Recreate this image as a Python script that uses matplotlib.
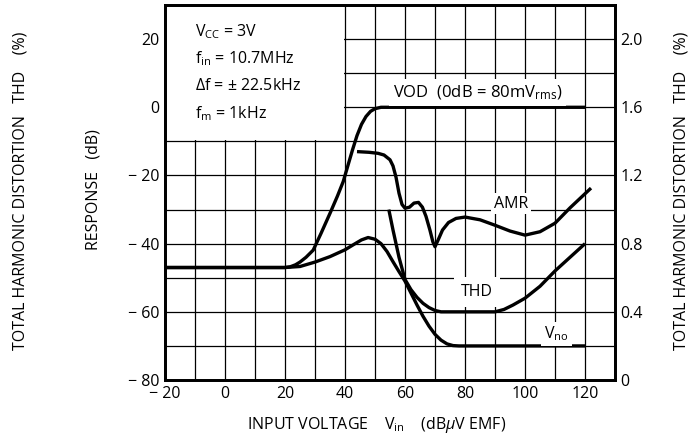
import numpy as np
import matplotlib
matplotlib.use("Agg")
import matplotlib.pyplot as plt
from matplotlib.patches import Rectangle

plt.rcParams['font.family'] = ['Open Sans', 'DejaVu Sans']
plt.rcParams['mathtext.fontset'] = 'custom'
plt.rcParams['mathtext.rm'] = 'Open Sans'
plt.rcParams['mathtext.it'] = 'Open Sans:italic'

# input voltage (dBuV EMF) vs response (dB)
vod_x = [-20, 20, 21.7, 23.5, 25, 27, 29.4, 32, 35, 37.5, 39.4, 41, 42.5, 44, 45.5, 47, 48.5, 50, 52, 120]
vod_y = [-47, -47, -46.8, -46.2, -45.4, -44, -41.9, -37, -31.1, -26, -21.8, -17, -12.5, -8.3, -5, -2.7, -1.2, -0.4, 0, 0]

vno_x = [-20, 20, 25, 30, 35, 40, 43, 45.5, 47.7, 50, 52, 54, 56, 58, 60, 62, 64, 66, 68, 70, 72, 74, 76, 78, 120]
vno_y = [-47, -47, -46.7, -45.4, -43.8, -41.8, -40.2, -38.9, -38.2, -38.7, -40, -42.3, -45.3, -48.2, -51, -54.5, -58, -61.3, -64.2, -66.6, -68.3, -69.4, -69.9, -70, -70]

amr_x = [44, 48, 51, 53, 55, 56, 57, 58, 59, 60, 61.5, 63, 64.5, 65.8, 67, 68.3, 69.3, 70, 71, 72.5, 74.5, 77, 80, 85, 90, 95, 100, 105, 110, 115, 122]
amr_y = [-13, -13.2, -13.5, -14, -15.4, -17.2, -20.5, -25.2, -28.5, -29.6, -29.3, -28.1, -27.9, -29.3, -32, -36, -39.5, -40.9, -39, -36, -33.8, -32.6, -32.2, -33, -34.6, -36.3, -37.5, -36.5, -34, -29.5, -23.7]

# THD in %
thd_x = [54.6, 56, 58, 60, 62, 64, 66, 68, 70, 72, 80, 90, 93, 96, 100, 105, 110, 115, 120]
thd_y = [1.0, 0.88, 0.72, 0.59, 0.53, 0.485, 0.45, 0.425, 0.408, 0.40, 0.40, 0.40, 0.414, 0.44, 0.48, 0.55, 0.64, 0.72, 0.80]

x_ticks = [-20, 0, 20, 40, 60, 80, 100, 120]
x_labels = ['\u2212 20', '0', '20', '40', '60', '80', '100', '120']
y_ticks = [-80, -60, -40, -20, 0, 20]
y_labels = ['\u2212 80', '\u2212 60', '\u2212 40', '\u2212 20', '0', '20']
thd_ticks = [0, 0.4, 0.8, 1.2, 1.6, 2.0]
thd_labels = ['0', '0.4', '0.8', '1.2', '1.6', '2.0']

conditions = ['V$_{\\rm CC}$ = 3V', 'f$_{\\rm in}$ = 10.7MHz',
              '$\\it{\u0394}$f = \u00b1 22.5kHz', 'f$_{\\rm m}$ = 1kHz']

fig = plt.figure(figsize=(7, 4.44), dpi=100)
ax = fig.add_axes([0.2357, 0.1441, 0.6429, 0.8446])

ax.set_xlim(-20, 130)
ax.set_ylim(-80, 30)
ax.set_xticks(x_ticks)
ax.set_xticklabels(x_labels)
ax.set_yticks(y_ticks)
ax.set_yticklabels(y_labels)
ax.set_xticks(np.arange(-20, 131, 10), minor=True)
ax.set_yticks(np.arange(-80, 31, 10), minor=True)
ax.grid(True, which='both', color='black', lw=0.9)
ax.set_axisbelow(True)
ax.tick_params(which='both', length=0, labelsize=11.5, pad=4)
for s in ax.spines.values():
    s.set_linewidth(2)

# blank area for the conditions
ax.add_patch(Rectangle((-20, -9.6), 59.6, 40, facecolor='white', edgecolor='none', zorder=1))

kw = dict(color='black', lw=2.4, zorder=2, solid_joinstyle='round', solid_capstyle='butt')
ax.plot(vod_x, vod_y, **kw)
ax.plot(vno_x, vno_y, **kw)
ax.plot(amr_x, amr_y, **kw)

ax2 = ax.twinx()
ax2.set_ylim(0, 2.2)
ax2.set_yticks(thd_ticks)
ax2.set_yticklabels(thd_labels)
ax2.tick_params(length=0, labelsize=11.5, pad=4)
for s in ax2.spines.values():
    s.set_linewidth(2)
ax2.plot(thd_x, thd_y, **kw)

bb = dict(facecolor='white', edgecolor='none', pad=2)
for i, t in enumerate(conditions):
    ax.text(-10, 22.3 - i * 8.1, t, fontsize=11.5, va='center', ha='left', zorder=3)
ax.text(56, 4.3, 'VOD  (0dB = 80mV$_{\\rm rms}$)', fontsize=12, va='center', ha='left',
        zorder=3, bbox=dict(facecolor='white', edgecolor='none', pad=3))
ax.text(95.3, -28.3, 'AMR', fontsize=11.5, va='center', ha='center', zorder=3, bbox=bb)
ax.text(84, -54.2, 'THD', fontsize=11.5, va='center', ha='center', zorder=3,
        bbox=dict(facecolor='white', edgecolor='none', pad=5))
ax.text(110.5, -66.5, 'V$_{\\rm no}$', fontsize=11.5, va='center', ha='center', zorder=3, bbox=bb)

fig.text(93 / 700, 1 - 190 / 444, 'RESPONSE   (dB)', rotation=90, fontsize=11.5,
         ha='center', va='center')
fig.text(21 / 700, 1 - 191 / 444, 'TOTAL HARMONIC DISTORTION   THD    (%)', rotation=90,
         fontsize=11.5, ha='center', va='center')
fig.text(682 / 700, 1 - 191 / 444, 'TOTAL HARMONIC DISTORTION   THD    (%)', rotation=90,
         fontsize=11.5, ha='center', va='center')
fig.text(377 / 700, 1 - 425 / 444, 'INPUT VOLTAGE    V$_{\\rm in}$    (dB$\\it{\u03bc}$V EMF)',
         fontsize=11.5, ha='center', va='center')

fig.savefig('out.png', dpi=100)
